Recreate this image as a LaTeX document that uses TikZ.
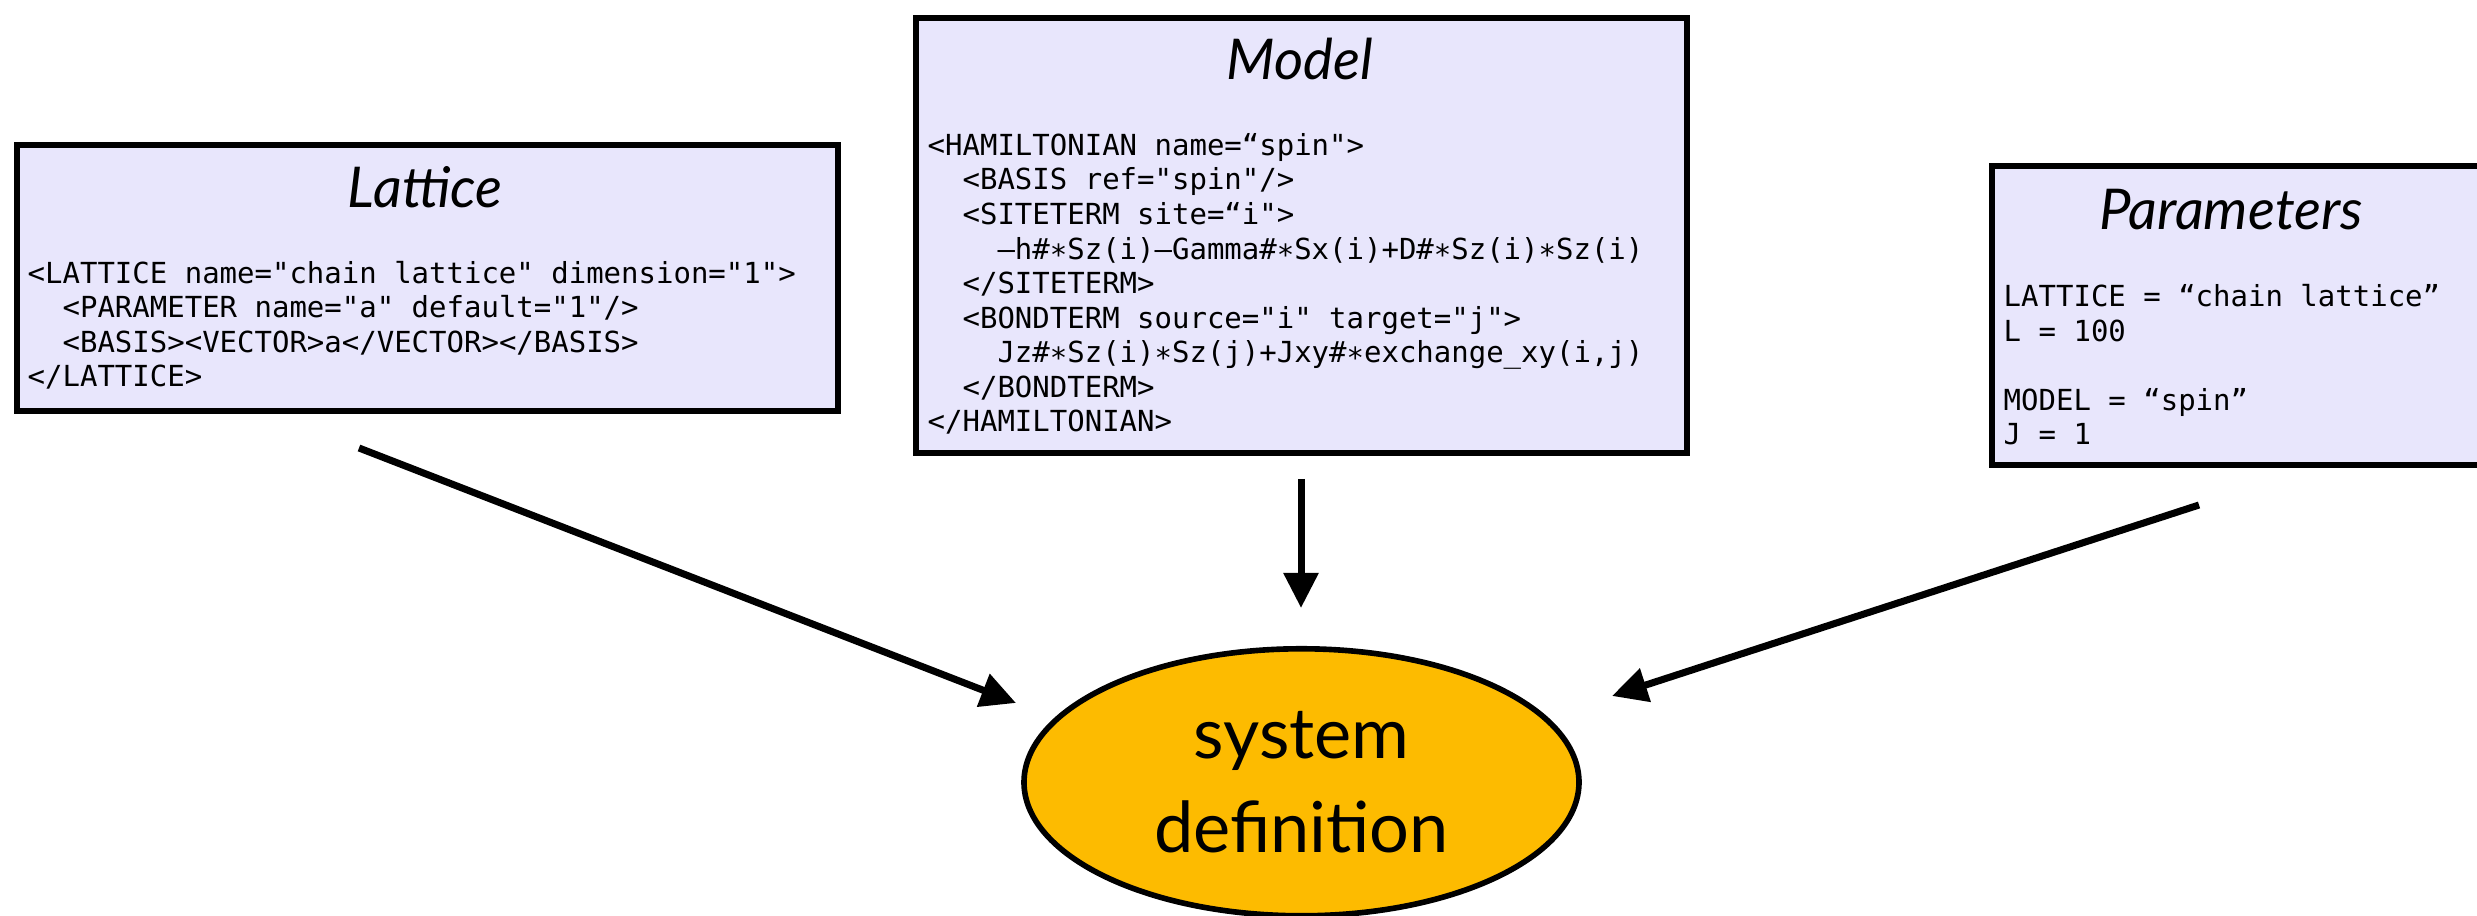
\documentclass[tikz,border=0pt]{standalone}
\usepackage{fontspec}
\setmainfont{Lato}
\newfontfamily\codefont{DejaVu Sans Mono}
\usepackage{tikz}
\usetikzlibrary{arrows.meta, positioning, shapes.geometric}
\definecolor{boxfill}{RGB}{232,230,252}
\definecolor{sysfill}{RGB}{253,187,0}

\begin{document}
\begin{tikzpicture}[x=1cm, y=-1cm, >={Triangle[length=10pt, width=9.6pt]},
  b/.style={draw, line width=1.7pt, fill=boxfill, anchor=north west, inner sep=0pt},
  t/.style={anchor=base, font=\fontsize{16}{19}\itshape\selectfont},
  c/.style={anchor=base west, align=left, inner sep=0pt, font=\codefont\fontsize{8.25}{9.84}\selectfont},
  a/.style={->, line width=2pt}]
\useasboundingbox (0,0) rectangle (24.77,9.16);
% input boxes
\node[b, minimum width=8.21cm, minimum height=2.66cm] (L) at (0.14,1.42) {};
\node[b, minimum width=7.71cm, minimum height=4.35cm] (M) at (9.13,0.15) {};
\node[b, minimum width=5cm, minimum height=2.99cm] (P) at (19.89,1.63) {};
\node[t] (Lt) at (4.25,2.08) {Lattice};
\node[t] (Mt) at (13.00,0.80) {Model};
\node[t] (Pt) at (22.31,2.30) {Parameters};
% code lines, placed at the baseline of their last line
\node[c] (Lc) at (0.27,3.87) {<LATTICE name="chain lattice" dimension="1">\\
  \phantom{xx}<PARAMETER name="a" default="1"/>\\
  \phantom{xx}<BASIS><VECTOR>a</VECTOR></BASIS>\\
  </LATTICE>};
\node[c] (Mc) at (9.27,4.32) {<HAMILTONIAN name=“spin">\\
  \phantom{xx}<BASIS ref="spin"/>\\
  \phantom{xx}<SITETERM site=“i">\\
  \phantom{xxxx}–h\#∗Sz(i)–Gamma\#∗Sx(i)+D\#∗Sz(i)∗Sz(i)\\
  \phantom{xx}</SITETERM>\\
  \phantom{xx}<BONDTERM source="i" target="j">\\
  \phantom{xxxx}Jz\#∗Sz(i)∗Sz(j)+Jxy\#∗exchange\_xy(i,j)\\
  \phantom{xx}</BONDTERM>\\
  </HAMILTONIAN>};
\node[c] (Pc) at (20.03,4.45) {LATTICE = “chain lattice”\\
  L = 100\\[9.84pt]
  MODEL = “spin”\\
  J = 1};
% result
\node[ellipse, draw, line width=1.6pt, fill=sysfill, minimum width=5.55cm, minimum height=2.67cm,
  inner sep=0pt, align=center, font=\fontsize{20}{26.7}\selectfont, below=1.9cm of M] (S) {system\\definition};
\coordinate (l1) at (3.59,4.48); \coordinate (l2) at (10.16,7.03);
\coordinate (m1) at (13.01,4.79); \coordinate (m2) at (13.01,6.08);
\coordinate (r1) at (21.99,5.05); \coordinate (r2) at (16.12,6.96);
\draw[a] (l1) -- (l2); \draw[a] (m1) -- (m2); \draw[a] (r1) -- (r2);
\end{tikzpicture}
\end{document}
